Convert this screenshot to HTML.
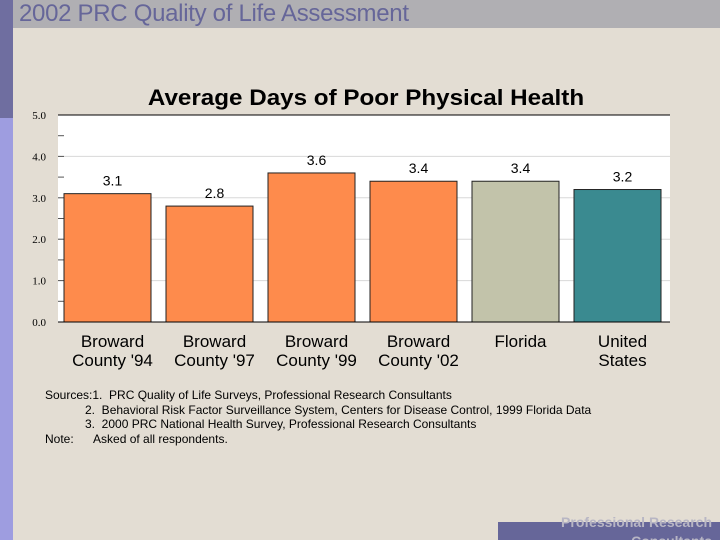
<!DOCTYPE html>
<html><head><meta charset="utf-8"><style>
body{margin:0;width:720px;height:540px;overflow:hidden;background:#e3ddd3;font-family:"Liberation Sans",sans-serif;position:relative}
.a{position:absolute}
</style></head><body>
<div class="a" style="left:0;top:0;width:13px;height:118px;background:#6f6ea0"></div>
<div class="a" style="left:0;top:118px;width:13px;height:422px;background:#9e9de0"></div>
<div class="a" style="left:13px;top:0;width:707px;height:28px;background:#b0afb3"></div>
<div class="a" style="left:19px;top:0px;font-size:24px;color:#666699;white-space:nowrap;letter-spacing:-0.3px">2002 PRC Quality of Life Assessment</div>
<div class="a" style="left:60px;width:612px;top:85px;text-align:center;font-size:22px;font-weight:bold;color:#000;transform:scaleX(1.1);transform-origin:center">Average Days of Poor Physical Health</div>
<svg class="a" style="left:0;top:0" width="720" height="540" id="c"></svg>
<div class="a" style="left:45px;top:388px;font-size:12px;line-height:14.5px;color:#000;white-space:pre">Sources:1.  PRC Quality of Life Surveys, Professional Research Consultants
            2.  Behavioral Risk Factor Surveillance System, Centers for Disease Control, 1999 Florida Data
            3.  2000 PRC National Health Survey, Professional Research Consultants
Note:      Asked of all respondents.</div>
<div class="a" style="left:498px;top:522px;width:222px;height:18px;background:#666699;overflow:hidden"></div>
<div class="a" style="left:498px;top:513px;width:214px;text-align:right;font-size:14px;font-weight:bold;color:#b8b6c4;line-height:19px;height:27px;overflow:hidden">Professional Research<br>Consultants</div>
<script>
const categories=[["Broward","County '94"],["Broward","County '97"],["Broward","County '99"],["Broward","County '02"],["Florida"],["United","States"]];
const values=[3.1,2.8,3.6,3.4,3.4,3.2];
const valueLabels=["3.1","2.8","3.6","3.4","3.4","3.2"];
const colors=["#fe8b4c","#fe8b4c","#fe8b4c","#fe8b4c","#c2c3aa","#3a8a90"];
const yTicks=[0,1,2,3,4,5];
const yTickLabels=["0.0","1.0","2.0","3.0","4.0","5.0"];
const svg=document.getElementById('c');const NS='http://www.w3.org/2000/svg';
const X0=58,X1=670,Y0=322,Y1=115,YMAX=5;
const y=v=>Y0-(v/YMAX)*(Y0-Y1);
const slot=(X1-X0)/categories.length;
const bx=i=>X0+i*slot+6;const bw=slot-15;
function mk(t,a,p){const e=document.createElementNS(NS,t);for(const k in a)e.setAttribute(k,a[k]);(p||svg).appendChild(e);return e;}
const bg=mk('rect',{x:X0,y:Y1,width:X1-X0,height:Y0-Y1,fill:'#fff'});


yTicks.forEach((t,i)=>{
 if(t>0&&t<YMAX){const g=mk('line',{x1:X0,x2:X1,y1:y(t),y2:y(t),stroke:'#d8d8d8'});
 
 }
 const l=mk('text',{x:46,y:y(t)+4,'text-anchor':'end','font-size':11,fill:'#000','font-family':'Liberation Serif'});l.textContent=yTickLabels[i];
 
 
});
for(let v=0.5;v<YMAX;v+=0.5){const tk=mk('line',{x1:X0,x2:X0+6,y1:y(v),y2:y(v),stroke:'#555'});
 
 }
mk('line',{x1:X0,x2:X1,y1:Y1,y2:Y1,stroke:'#000'});
values.forEach((v,i)=>{
 const r=mk('rect',{x:bx(i),y:y(v),width:bw,height:Y0-y(v),fill:colors[i],stroke:'#222','stroke-width':1});
 
 
 const cx=bx(i)+bw/2+5;
 const t=mk('text',{x:cx,y:y(v)-8,'text-anchor':'middle','font-size':14,fill:'#000'});t.textContent=valueLabels[i];
 
 
 categories[i].forEach((s,j)=>{const c=mk('text',{x:cx,y:347+j*19,'text-anchor':'middle','font-size':17,fill:'#000'});c.textContent=s;
  
  });
});
const ax=mk('line',{x1:X0,x2:X1,y1:Y0,y2:Y0,stroke:'#000'});


</script>
</body></html>
